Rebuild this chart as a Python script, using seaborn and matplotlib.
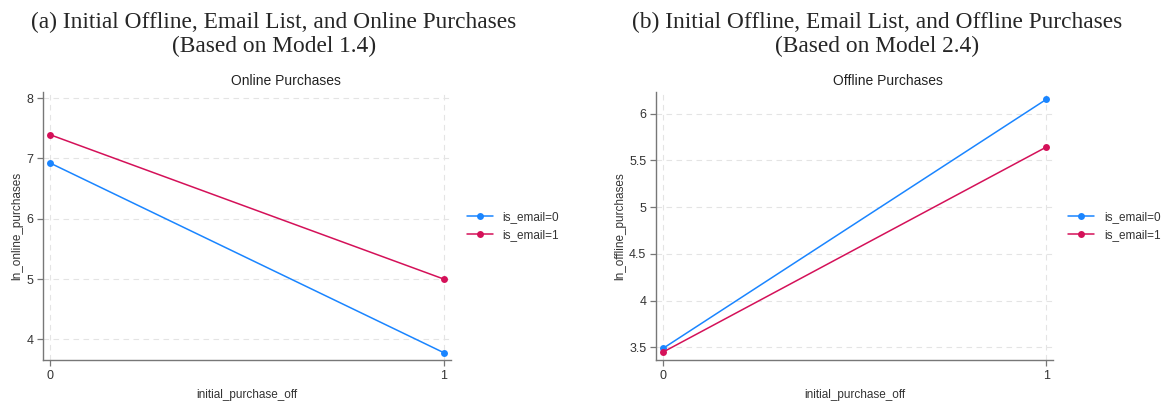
import matplotlib
matplotlib.use("Agg")
import matplotlib.pyplot as plt
import seaborn as sns
import pandas as pd

# ---- data ----
x_levels = [0, 1]
groups = ["is_email=0", "is_email=1"]
online_email0 = [6.92, 3.78]
online_email1 = [7.39, 5.00]
offline_email0 = [3.49, 6.15]
offline_email1 = [3.45, 5.64]

online_yticks = [4, 5, 6, 7, 8]
online_yticklabels = ["4", "5", "6", "7", "8"]
offline_yticks = [3.5, 4, 4.5, 5, 5.5, 6]
offline_yticklabels = ["3.5", "4", "4.5", "5", "5.5", "6"]

title_a = ["(a) Initial Offline, Email List, and Online Purchases", "(Based on Model 1.4)"]
title_b = ["(b) Initial Offline, Email List, and Offline Purchases", "(Based on Model 2.4)"]

def make_df(v0, v1):
    return pd.DataFrame({
        "initial_purchase_off": x_levels + x_levels,
        "value": list(v0) + list(v1),
        "group": [groups[0]] * len(x_levels) + [groups[1]] * len(x_levels),
    })

df_on = make_df(online_email0, online_email1)
df_off = make_df(offline_email0, offline_email1)

sns.set_style("white")
plt.rcParams["font.family"] = ["Liberation Sans", "DejaVu Sans"]

palette = {groups[0]: "#1a85ff", groups[1]: "#d41159"}

W, H = 1164, 405
fig = plt.figure(figsize=(11.64, 4.05), dpi=100)
ax1 = fig.add_axes([43 / W, (H - 360) / H, (451 - 43) / W, (360 - 92) / H])
ax2 = fig.add_axes([656 / W, (H - 360) / H, (1053 - 656) / W, (360 - 92) / H])

def style(ax, df, ylabel, title, title_x, yticks, yticklabels, ylim, legend_x):
    sns.lineplot(data=df, x="initial_purchase_off", y="value", hue="group",
                 palette=palette, marker="o", markersize=5, markeredgewidth=0,
                 linewidth=1.1, ax=ax, legend=True)
    ax.set_xlim(-0.019, 1.018)
    ax.set_ylim(*ylim)
    ax.set_xticks(x_levels)
    ax.set_xticklabels([str(v) for v in x_levels])
    ax.set_yticks(yticks)
    ax.set_yticklabels(yticklabels)
    ax.grid(True, color="#e4e4e4", linestyle=(0, (5, 4)), linewidth=0.8)
    ax.set_axisbelow(True)
    for s in ["top", "right"]:
        ax.spines[s].set_visible(False)
    for s in ["left", "bottom"]:
        ax.spines[s].set_color("#777777")
        ax.spines[s].set_linewidth(1.0)
    ax.tick_params(axis="both", which="both", direction="out", length=4,
                   width=0.9, color="#777777", labelsize=9, labelcolor="#333333",
                   left=True, bottom=True, pad=3)
    ax.set_xlabel("initial_purchase_off", fontsize=8.5, color="#333333", labelpad=5)
    ax.set_ylabel(ylabel, fontsize=8.5, color="#333333", labelpad=2)
    fig.text(title_x / W, 1 - 81 / H, title, ha="center", va="center",
             fontsize=10, color="#222222")
    leg = ax.legend(loc="center left", bbox_to_anchor=(legend_x, 0.5), frameon=False,
                    fontsize=8.5, handlelength=2.2, handletextpad=0.85,
                    labelspacing=0.5, borderaxespad=0)
    for t in leg.get_texts():
        t.set_color("#333333")

style(ax1, df_on, "ln_online_purchases", "Online Purchases", 286,
      online_yticks, online_yticklabels, (3.66, 8.1), 1.027)
style(ax2, df_off, "ln_offline_purchases", "Offline Purchases", 888,
      offline_yticks, offline_yticklabels, (3.364, 6.23), 1.027)

serif = ["Liberation Serif", "DejaVu Serif"]
for cx, lines in [(274, title_a), (877, title_b)]:
    fig.text(cx / W, 1 - 28 / H, lines[0], ha="center", va="baseline",
             fontsize=16.8, family=serif)
    fig.text(cx / W, 1 - 52 / H, lines[1], ha="center", va="baseline",
             fontsize=16.8, family=serif)

fig.savefig("out.png", dpi=100, facecolor="white")
